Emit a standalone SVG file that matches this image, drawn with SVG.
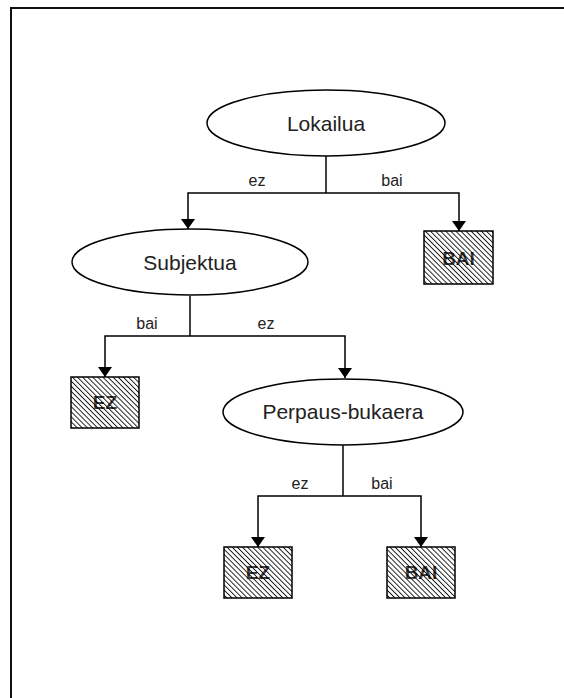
<svg xmlns="http://www.w3.org/2000/svg" width="564" height="698" viewBox="0 0 564 698">
  <style>
    .frame { fill: none; stroke: #111; stroke-width: 2; }
    .oval { fill: #fff; stroke: #000; stroke-width: 1.5; }
    .oval-text { font-family: "Liberation Sans", Arial, sans-serif; font-size: 21px; fill: #222; text-anchor: middle; }
    .leaf { fill: url(#hatch); stroke: #000; stroke-width: 1.5; }
    .leaf-text { font-family: "Liberation Sans", Arial, sans-serif; font-size: 19px; font-weight: bold; fill: #111; text-anchor: middle; }
    .edge { fill: none; stroke: #000; stroke-width: 1.5; }
    .edge-label { font-family: "Liberation Sans", Arial, sans-serif; font-size: 16px; fill: #222; text-anchor: middle; }
  </style>
  <defs>
    <pattern id="hatch" patternUnits="userSpaceOnUse" width="3.6" height="3.6" patternTransform="rotate(-45)">
      <rect width="3.6" height="3.6" fill="#fff"/>
      <line x1="0" y1="0" x2="0" y2="3.6" stroke="#111" stroke-width="1.9"/>
    </pattern>
    <pattern id="streak" patternUnits="userSpaceOnUse" width="3.6" height="3.6" patternTransform="rotate(-45)">
      <line x1="1.8" y1="0" x2="1.8" y2="3.6" stroke="#fff" stroke-width="0.8" stroke-opacity="0.5"/>
    </pattern>
    <marker id="arrow" viewBox="0 0 10 14" refX="10" refY="7" markerWidth="10" markerHeight="14" markerUnits="userSpaceOnUse" orient="auto">
      <path d="M0,0 L10,7 L0,14 Z" fill="#000"/>
    </marker>
  </defs>

  <rect width="564" height="698" fill="#fff"/>
  <path class="frame" d="M11,698 V8 H564"/>

  <g id="connectors">
    <path class="edge" d="M326,156 V193"/>
    <path class="edge" d="M326,193 H188 V229" marker-end="url(#arrow)"/>
    <path class="edge" d="M326,193 H459 V231" marker-end="url(#arrow)"/>
    <text class="edge-label" x="257" y="186">ez</text>
    <text class="edge-label" x="392" y="186">bai</text>

    <path class="edge" d="M190,296 V336"/>
    <path class="edge" d="M190,336 H105 V377" marker-end="url(#arrow)"/>
    <path class="edge" d="M190,336 H345 V378" marker-end="url(#arrow)"/>
    <text class="edge-label" x="147" y="329">bai</text>
    <text class="edge-label" x="266" y="329">ez</text>

    <path class="edge" d="M343,445 V496"/>
    <path class="edge" d="M343,496 H258 V547" marker-end="url(#arrow)"/>
    <path class="edge" d="M343,496 H421 V547" marker-end="url(#arrow)"/>
    <text class="edge-label" x="300" y="489">ez</text>
    <text class="edge-label" x="382" y="489">bai</text>
  </g>

  <g id="lokailua">
    <ellipse class="oval" cx="326" cy="123" rx="119" ry="33"/>
    <text class="oval-text" x="326" y="131">Lokailua</text>
  </g>

  <g id="subjektua">
    <ellipse class="oval" cx="190" cy="262" rx="118" ry="33"/>
    <text class="oval-text" x="190" y="270">Subjektua</text>
  </g>

  <g id="perpaus-bukaera">
    <ellipse class="oval" cx="343" cy="412" rx="120" ry="33"/>
    <text class="oval-text" x="343" y="419">Perpaus-bukaera</text>
  </g>

  <g id="leaf-bai-1">
    <rect class="leaf" x="424" y="231" width="69" height="53"/>
    <text class="leaf-text" x="458.5" y="265">BAI</text>
    <rect x="425" y="232" width="67" height="51" fill="url(#streak)"/>
  </g>

  <g id="leaf-ez-1">
    <rect class="leaf" x="71" y="377" width="68" height="51"/>
    <text class="leaf-text" x="105" y="409">EZ</text>
    <rect x="72" y="378" width="66" height="49" fill="url(#streak)"/>
  </g>

  <g id="leaf-ez-2">
    <rect class="leaf" x="224" y="547" width="68" height="51"/>
    <text class="leaf-text" x="258" y="579">EZ</text>
    <rect x="225" y="548" width="66" height="49" fill="url(#streak)"/>
  </g>

  <g id="leaf-bai-2">
    <rect class="leaf" x="387" y="547" width="68" height="51"/>
    <text class="leaf-text" x="421" y="579">BAI</text>
    <rect x="388" y="548" width="66" height="49" fill="url(#streak)"/>
  </g>
</svg>
